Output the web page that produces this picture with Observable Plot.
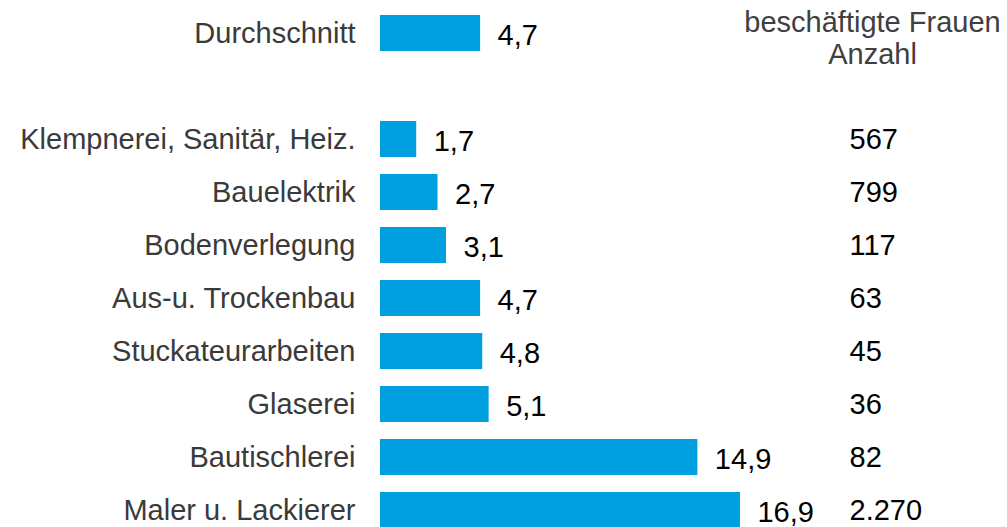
<!DOCTYPE html>
<html>
<head>
<meta charset="utf-8">
<script src="https://cdn.jsdelivr.net/npm/d3@7"></script>
<script src="https://cdn.jsdelivr.net/npm/@observablehq/plot@0.6"></script>
<style>
  html, body { margin: 0; padding: 0; background: #fff; }
  svg { display: block; }
</style>
</head>
<body>
<div id="chart"></div>
<script>
const categories = ["Durchschnitt", "Klempnerei, Sanitär, Heiz.", "Bauelektrik", "Bodenverlegung", "Aus-u. Trockenbau", "Stuckateurarbeiten", "Glaserei", "Bautischlerei", "Maler u. Lackierer"];
const shares = [4.7, 1.7, 2.7, 3.1, 4.7, 4.8, 5.1, 14.9, 16.9];
const counts = ["", "567", "799", "117", "63", "45", "36", "82", "2.270"];
const headerText = "beschäftigte Frauen\nAnzahl";

const blank = " ";
const yDomain = [categories[0], blank, ...categories.slice(1)];
const data = categories.map((c, i) => ({category: c, share: shares[i], count: counts[i], label: String(shares[i]).replace(".", ",")}));

const font = "Liberation Sans, Arial, sans-serif";
const fs = 29;

const chart = Plot.plot({
  width: 1007,
  height: 527,
  marginLeft: 380,
  marginRight: 0,
  marginTop: 0,
  marginBottom: 0,
  style: {fontFamily: font, fontSize: fs + "px", background: "#fff"},
  x: {domain: [0, 627 / 21.3], axis: null},
  y: {domain: yDomain, range: [6.5, 536.5], paddingInner: 0.32, paddingOuter: 0.16, align: 0.5, axis: null},
  marks: [
    Plot.barX(data, {x: "share", y: "category", fill: "#009FDF"}),
    Plot.text(data, {x: "share", y: "category", text: "label", textAnchor: "start", dx: 17, dy: 2, fill: "#000", fontSize: fs}),
    Plot.text(data, {y: "category", text: "category", frameAnchor: "left", textAnchor: "end", dx: -25, fill: "#3a3a3a", fontSize: fs}),
    Plot.text(data.slice(1), {y: "category", text: "count", frameAnchor: "right", textAnchor: "start", dx: -158, fill: "#000", fontSize: fs}),
    Plot.text([headerText], {y: () => categories[0], text: d => d, frameAnchor: "right", textAnchor: "middle", dx: -135, dy: 4, lineHeight: 1.12, fill: "#404040", fontSize: fs})
  ]
});
document.getElementById("chart").appendChild(chart);
</script>
</body>
</html>
